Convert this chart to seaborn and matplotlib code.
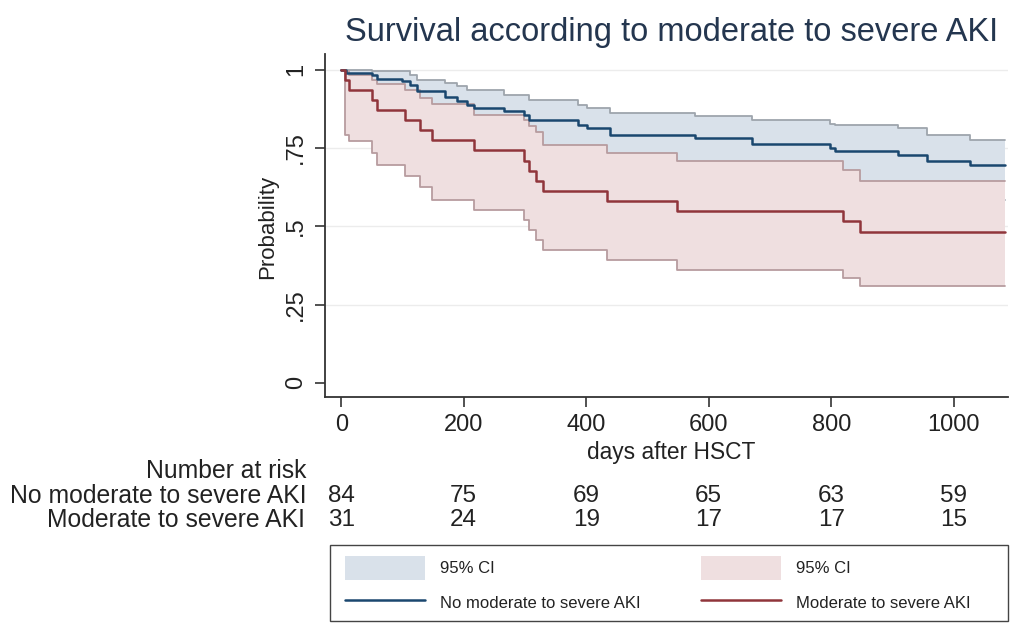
import numpy as np
import pandas as pd
import matplotlib
matplotlib.use("Agg")
import matplotlib.pyplot as plt
import seaborn as sns
from matplotlib.patches import Patch, Rectangle
from matplotlib.lines import Line2D

# ---------------- data ----------------
title = "Survival according to moderate to severe AKI"
group_labels = ["No moderate to severe AKI", "Moderate to severe AKI"]

# Group 1: No moderate to severe AKI
t_no = [0, 8, 50, 59, 99, 113, 124, 170, 189, 205, 216, 265, 298, 306, 387, 401,
        439, 578, 670, 798, 806, 909, 956, 1027, 1083]
s_no = [1.0, 0.990, 0.982, 0.971, 0.963, 0.952, 0.931, 0.914, 0.899, 0.888, 0.879,
        0.867, 0.856, 0.838, 0.824, 0.813, 0.792, 0.782, 0.762, 0.749, 0.739, 0.728,
        0.707, 0.696, 0.696]
hi_no = [1.0, 1.0, 0.995, 0.995, 0.995, 0.984, 0.968, 0.957, 0.947, 0.936, 0.936,
         0.920, 0.920, 0.904, 0.888, 0.878, 0.862, 0.851, 0.840, 0.828, 0.824, 0.813,
         0.790, 0.776, 0.776]
lo_no = [1.0, 0.92, 0.91, 0.90, 0.89, 0.875, 0.85, 0.83, 0.815, 0.80, 0.79, 0.78,
         0.765, 0.745, 0.73, 0.72, 0.695, 0.685, 0.66, 0.645, 0.635, 0.62, 0.60,
         0.585, 0.585]

# Group 2: Moderate to severe AKI
t_yes = [0, 6, 12, 50, 58, 104, 129, 148, 216, 298, 306, 318, 330, 434, 548, 820,
         847, 1083]
s_yes = [1.0, 0.968, 0.935, 0.903, 0.871, 0.839, 0.806, 0.774, 0.742, 0.710, 0.677,
         0.645, 0.613, 0.581, 0.549, 0.517, 0.483, 0.483]
hi_yes = [1.0, 0.995, 0.984, 0.968, 0.955, 0.935, 0.910, 0.891, 0.855, 0.840, 0.819,
          0.800, 0.760, 0.734, 0.707, 0.681, 0.645, 0.645]
lo_yes = [1.0, 0.790, 0.771, 0.734, 0.697, 0.659, 0.627, 0.585, 0.553, 0.521, 0.489,
          0.457, 0.425, 0.393, 0.361, 0.334, 0.308, 0.308]

# Number at risk table
risk_times = [0, 200, 400, 600, 800, 1000]
risk_no = [84, 75, 69, 65, 63, 59]
risk_yes = [31, 24, 19, 17, 17, 15]

y_ticks = [0, 0.25, 0.5, 0.75, 1]
y_ticklabels = ["0", ".25", ".5", ".75", "1"]
x_ticks = [0, 200, 400, 600, 800, 1000]

# ---------------- style ----------------
sns.set_theme(style="white")
plt.rcParams['font.family'] = ['Liberation Sans', 'DejaVu Sans']

navy = "#1a476f"
maroon = "#90353b"
blue_fill = "#d9e1ea"
pink_fill = "#efdfe0"
blue_edge = "#9ea5ad"
pink_edge = "#b79c9f"
text_col = "#222222"
title_col = "#24364f"

W, H = 1010, 623
fig = plt.figure(figsize=(W / 100, H / 100), dpi=100)
fig.patch.set_facecolor("white")
ax = fig.add_axes([325 / W, 1 - 397 / H, (1008 - 325) / W, (397 - 54) / H])
ax.set_facecolor("white")

# CI bands
ax.fill_between(t_no, lo_no, hi_no, step="post", color=blue_fill, lw=0, zorder=1)
sns.lineplot(x=t_no, y=hi_no, drawstyle="steps-post", color=blue_edge, lw=1.3,
             errorbar=None, ax=ax, zorder=1.5)
sns.lineplot(x=t_no, y=lo_no, drawstyle="steps-post", color=blue_edge, lw=1.3,
             errorbar=None, ax=ax, zorder=1.5)
ax.fill_between(t_yes, lo_yes, hi_yes, step="post", color=pink_fill, lw=0, zorder=2)
sns.lineplot(x=t_yes, y=hi_yes, drawstyle="steps-post", color=pink_edge, lw=1.3,
             errorbar=None, ax=ax, zorder=2.5)
sns.lineplot(x=t_yes, y=lo_yes, drawstyle="steps-post", color=pink_edge, lw=1.3,
             errorbar=None, ax=ax, zorder=2.5)

# survival curves
sns.lineplot(x=t_no, y=s_no, drawstyle="steps-post", color=navy, lw=1.8,
             errorbar=None, ax=ax, zorder=4)
sns.lineplot(x=t_yes, y=s_yes, drawstyle="steps-post", color=maroon, lw=1.8,
             errorbar=None, ax=ax, zorder=4)

ax.set_xlim(-26.5, 1088.6)
ax.set_ylim(-0.045, 1.05)
ax.set_xticks(x_ticks)
ax.set_xticklabels([str(v) for v in x_ticks])
ax.set_yticks(y_ticks)
ax.set_yticklabels(y_ticklabels, rotation=90, va="center")
ax.set_xlabel("")
ax.set_ylabel("")
for yv in y_ticks[1:]:
    ax.axhline(yv, color="#ececec", lw=1.0, zorder=0)

for s in ["top", "right"]:
    ax.spines[s].set_visible(False)
for s in ["left", "bottom"]:
    ax.spines[s].set_color("#333333")
    ax.spines[s].set_linewidth(1.3)
ax.tick_params(axis="both", which="both", bottom=True, left=True, direction="out",
               length=7, width=1.2, color="#333333", labelsize=17, labelcolor=text_col)
ax.tick_params(axis="x", pad=5)
ax.tick_params(axis="y", pad=6)

# titles / labels
fig.text(672 / W, 1 - 33 / H, title, ha="center", va="center", fontsize=23.5,
         color=title_col)
fig.text(268 / W, 1 - 227 / H, "Probability", rotation=90, ha="center", va="center",
         fontsize=16, color=text_col)
fig.text(671 / W, 1 - 453 / H, "days after HSCT", ha="center", va="center",
         fontsize=16.4, color=text_col)

# number at risk table
fs_risk = 17.8
fig.text(306 / W, 1 - 471 / H, "Number at risk", ha="right", va="center",
         fontsize=fs_risk, color=text_col)
fig.text(307 / W, 1 - 496 / H, group_labels[0], ha="right", va="center",
         fontsize=fs_risk, color=text_col)
fig.text(305 / W, 1 - 520 / H, group_labels[1], ha="right", va="center",
         fontsize=fs_risk, color=text_col)
for t, a, b in zip(risk_times, risk_no, risk_yes):
    xp = (ax.transData.transform((t, 0))[0]) / W
    fig.text(xp, 1 - 496 / H, str(a), ha="center", va="center", fontsize=17.5,
             color=text_col)
    fig.text(xp, 1 - 520 / H, str(b), ha="center", va="center", fontsize=17.5,
             color=text_col)

# legend
fig.patches.append(Rectangle((330 / W, 2 / H), 678 / W, 76 / H,
                             transform=fig.transFigure, fill=False,
                             edgecolor="#444444", lw=1.0))
handles = [Patch(facecolor=blue_fill, edgecolor="none"),
           Line2D([], [], color=navy, lw=1.8),
           Patch(facecolor=pink_fill, edgecolor="none"),
           Line2D([], [], color=maroon, lw=1.8)]
labels = ["95% CI", group_labels[0], "95% CI", group_labels[1]]
leg = fig.legend(handles, labels, ncol=2, loc="upper left",
                 bbox_to_anchor=(345 / W, 1 - 556 / H), bbox_transform=fig.transFigure,
                 frameon=False, fontsize=12,
                 handlelength=4.8, handleheight=1.8, handletextpad=0.9,
                 labelspacing=0.7, columnspacing=3.6, borderpad=0,
                 borderaxespad=0)
for txt in leg.get_texts():
    txt.set_color(text_col)

fig.savefig("out.png", dpi=100, facecolor="white")
